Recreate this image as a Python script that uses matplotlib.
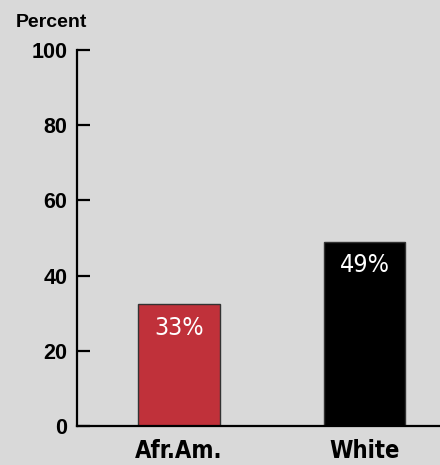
import matplotlib.pyplot as plt

groups = ["Afr.Am.", "White"]
percent = [32.4, 49]
bar_labels = ["33%", "49%"]
bar_colors = ["#c0313a", "#000000"]
yticks = [0, 20, 40, 60, 80, 100]

bg = "#d9d9d9"

fig = plt.figure(figsize=(4.4, 4.65), dpi=100, facecolor=bg)
ax = fig.add_axes([77 / 440, 1 - 426 / 465, 363 / 440, 376 / 465])
ax.set_facecolor(bg)

x = list(range(len(groups)))
bars = ax.bar(x, percent, width=0.442, color=bar_colors, edgecolor="#333333", linewidth=1)
for b, lab in zip(bars, bar_labels):
    ax.text(b.get_x() + b.get_width() / 2, b.get_height() - 6.3, lab, ha="center", va="center",
            color="white", fontsize=18, family="DejaVu Sans", fontstretch="condensed")

ax.set_xlim(-0.55, 1.407)
ax.set_ylim(0, 100)
ax.set_yticks(yticks)
ax.set_yticklabels([str(t) for t in yticks], fontsize=15.5, fontweight="bold", family="Liberation Sans")
ax.tick_params(axis="y", direction="in", length=9.5, width=1.6, pad=7)
ax.set_xticks(x)
ax.set_xticklabels(groups, fontsize=17, fontweight="bold", family="DejaVu Sans", fontstretch="condensed")
ax.tick_params(axis="x", length=0, pad=9)
for s in ["top", "right"]:
    ax.spines[s].set_visible(False)
ax.spines["left"].set_linewidth(1.6)
ax.spines["bottom"].set_linewidth(1.6)

fig.text(51 / 440, 1 - 22.5 / 465, "Percent", ha="center", va="center", fontsize=14,
         fontweight="bold", family="Liberation Sans")

fig.savefig("out.png", dpi=100, facecolor=bg)
